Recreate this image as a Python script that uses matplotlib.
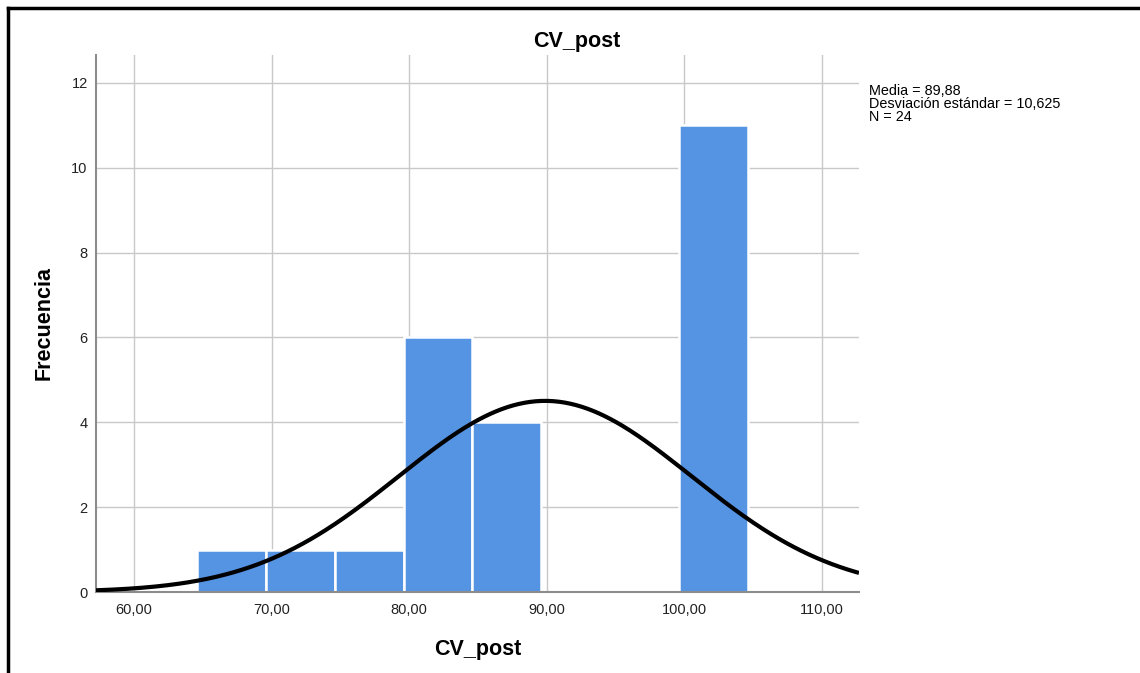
import numpy as np
import matplotlib
matplotlib.use("Agg")
import matplotlib.pyplot as plt
from matplotlib.lines import Line2D

plt.rcParams['font.family'] = ['Liberation Sans', 'DejaVu Sans']

# histogram data (bins of width 5)
bin_left = [64.6, 69.6, 74.6, 79.6, 84.6, 89.6, 94.6, 99.6]
counts = [1, 1, 1, 6, 4, 0, 0, 11]
bin_width = 5.0

media = 89.88
desv = 10.625
n = 24

x_ticks = [60, 70, 80, 90, 100, 110]
x_labels = ["60,00", "70,00", "80,00", "90,00", "100,00", "110,00"]
y_ticks = [0, 2, 4, 6, 8, 10, 12]

fig = plt.figure(figsize=(11.4, 6.73), dpi=100)
ax = fig.add_axes([96/1140, 1 - 592/673, (859-96)/1140, (592-55)/673])

ax.set_axisbelow(True)
ax.grid(True, color='#c8c8c8', linewidth=1.0)
ax.bar(bin_left, counts, width=bin_width, align='edge',
       color='#5593e3', edgecolor='white', linewidth=1.8, zorder=2)

xs = np.linspace(57.24, 112.69, 400)
ys = n * bin_width / (desv * np.sqrt(2 * np.pi)) * np.exp(-0.5 * ((xs - media) / desv) ** 2)
ax.plot(xs, ys, color='black', linewidth=3, zorder=3, solid_capstyle='butt')

ax.set_xlim(57.24, 112.69)
ax.set_ylim(0, 12.66)
ax.set_xticks(x_ticks)
ax.set_xticklabels(x_labels)
ax.set_yticks(y_ticks)
ax.tick_params(length=0, labelsize=10.5, colors='#222222')
ax.tick_params(axis='x', pad=8)
ax.tick_params(axis='y', pad=6)

for s in ['top', 'right']:
    ax.spines[s].set_visible(False)
for s in ['left', 'bottom']:
    ax.spines[s].set_color('#8c8c8c')
    ax.spines[s].set_linewidth(1.5)

ax.set_xlabel("CV_post", fontsize=15.5, fontweight='bold', labelpad=16)
ax.set_ylabel("Frecuencia", fontsize=15.5, fontweight='bold', labelpad=12)

fig.text(577/1140, 1 - 41/673, "CV_post", fontsize=15.5, fontweight='bold',
         ha='center', va='center')

fig.text(869/1140, 1 - 84/673,
         "Media = 89,88\nDesviación estándar = 10,625\nN = 24",
         fontsize=10.4, ha='left', va='top', linespacing=0.9)

# frame lines of the screenshot
fig.add_artist(Line2D([8/1140, 1], [1 - 8/673, 1 - 8/673], color='black', linewidth=2.5))
fig.add_artist(Line2D([8/1140, 8/1140], [0, 1 - 8/673], color='black', linewidth=2.5))

fig.savefig("out.png", dpi=100)
